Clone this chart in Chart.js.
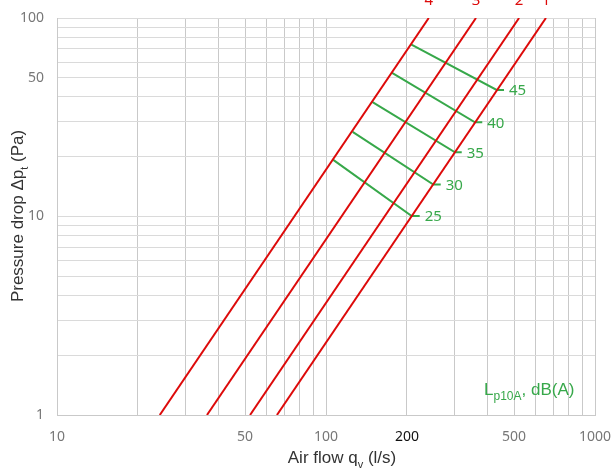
<!doctype html>
<html>
<head>
<meta charset="utf-8">
<script src="https://cdn.jsdelivr.net/npm/chart.js"></script>
<style>
    body { margin: 0; background: #fff; }
</style>
</head>
<body>
<canvas id="chart" width="612" height="471"></canvas>
<script>
    // grid + labels
    const xGrid = [10, 20, 30, 40, 50, 60, 70, 80, 90, 100, 200, 300, 400, 500, 600, 700, 800, 900, 1000];
    const xLabels = [10, 50, 100, 200, 500, 1000];
    const yGrid = [1, 2, 3, 4, 5, 6, 7, 8, 9, 10, 20, 30, 40, 50, 60, 70, 80, 90, 100];
    const yLabels = [1, 10, 50, 100];

    // red duct lines: air flow at 1 Pa and at 100 Pa
    const ductNames = ['4', '3', '2', '1'];
    const ductQLow = [24.1, 36.1, 52.2, 65.7];
    const ductQHigh = [241, 361, 522, 657];
    const pLow = 1;
    const pHigh = 100;

    // green sound level lines
    const soundLevels = ['25', '30', '35', '40', '45'];
    const soundStartQ = [106.4, 125.6, 147.9, 175.4, 207];
    const soundStartP = [19.3, 26.7, 37.9, 53.0, 73.7];
    const soundEndQ = [208.2, 250.6, 301.7, 358, 431];
    const soundEndP = [10.06, 14.5, 21.05, 29.8, 43.4];
    const soundTickQ = [223, 267, 319.6, 381, 459];

    const red = '#dd0a0a';
    const green = '#37a84a';

    const datasets = [];
    for (let i = 0; i < ductNames.length; i++) {
        datasets.push({
            label: 'duct ' + ductNames[i],
            data: [{ x: ductQLow[i], y: pLow }, { x: ductQHigh[i], y: pHigh }],
            borderColor: red, borderWidth: 2, pointRadius: 0, tension: 0
        });
    }
    for (let i = 0; i < soundLevels.length; i++) {
        datasets.push({
            label: 'Lp ' + soundLevels[i],
            data: [
                { x: soundStartQ[i], y: soundStartP[i] },
                { x: soundEndQ[i], y: soundEndP[i] },
                { x: soundTickQ[i], y: soundEndP[i] }
            ],
            borderColor: green, borderWidth: 2, pointRadius: 0, tension: 0
        });
    }

    // text with subscript parts: [[text, isSub], ...]
    function drawParts(ctx, parts, x, y, size, subSize) {
        let cx = x;
        for (const p of parts) {
            ctx.font = (p[1] ? subSize : size) + 'px "Liberation Sans", Arial, sans-serif';
            ctx.fillText(p[0], cx, p[1] ? y + size * 0.3 : y);
            cx += ctx.measureText(p[0]).width;
        }
        return cx - x;
    }
    function partsWidth(ctx, parts, size, subSize) {
        let w = 0;
        for (const p of parts) {
            ctx.font = (p[1] ? subSize : size) + 'px "Liberation Sans", Arial, sans-serif';
            w += ctx.measureText(p[0]).width;
        }
        return w;
    }

    const labelsPlugin = {
        id: 'labels',
        afterDraw(chart) {
            const ctx = chart.ctx;
            const xs = chart.scales.x, ys = chart.scales.y;
            ctx.save();
            ctx.textBaseline = 'alphabetic';
            ctx.textAlign = 'center';
            ctx.fillStyle = red;
            ctx.font = '15px "Noto Sans", sans-serif';
            for (let i = 0; i < ductNames.length; i++) {
                ctx.fillText(ductNames[i], xs.getPixelForValue(ductQHigh[i]), ys.getPixelForValue(pHigh) - 13);
            }
            ctx.textAlign = 'left';
            ctx.textBaseline = 'middle';
            ctx.fillStyle = green;
            ctx.font = '15px "Noto Sans", sans-serif';
            for (let i = 0; i < soundLevels.length; i++) {
                ctx.fillText(soundLevels[i], xs.getPixelForValue(soundTickQ[i]) + 5, ys.getPixelForValue(soundEndP[i]) + 1);
            }
            // legend note
            ctx.textAlign = 'left';
            ctx.textBaseline = 'alphabetic';
            drawParts(ctx, [['L', false], ['p10A', true], [', dB(A)', false]], 484, 395, 17, 12);

            // axis titles
            ctx.fillStyle = '#333';
            const xParts = [['Air flow q', false], ['v', true], [' (l/s)', false]];
            const xw = partsWidth(ctx, xParts, 17, 11);
            drawParts(ctx, xParts, 342 - xw / 2, 463, 17, 11);

            const yParts = [['Pressure drop \u0394p', false], ['t', true], [' (Pa)', false]];
            const yw = partsWidth(ctx, yParts, 17, 11);
            ctx.translate(23, 216);
            ctx.rotate(-Math.PI / 2);
            drawParts(ctx, yParts, -yw / 2, 0, 17, 11);
            ctx.restore();
        }
    };

    new Chart(document.getElementById('chart'), {
        type: 'line',
        data: { datasets: datasets },
        options: {
            responsive: false,
            animation: false,
            layout: { padding: { top: 18, right: 17, left: 0, bottom: 0 } },
            plugins: { legend: { display: false }, tooltip: { enabled: false } },
            scales: {
                x: {
                    type: 'logarithmic', min: 10, max: 1000,
                    afterFit: s => { s.height = 56; s.paddingLeft = 0; s.paddingRight = 0; },
                    afterBuildTicks: s => { s.ticks = xGrid.map(v => ({ value: v })); },
                    grid: { color: '#c9c9c9', drawTicks: false },
                    border: { color: '#c9c9c9' },
                    ticks: {
                        autoSkip: false, maxRotation: 0, padding: 14,
                        font: { family: '"Noto Sans", sans-serif', size: 14 },
                        color: c => c.tick && c.tick.value === 200 ? '#111' : '#777',
                        callback: v => xLabels.includes(v) ? String(v) : ''
                    }
                },
                y: {
                    type: 'logarithmic', min: 1, max: 100,
                    afterFit: s => { s.width = 57; s.paddingTop = 0; s.paddingBottom = 0; },
                    afterBuildTicks: s => { s.ticks = yGrid.map(v => ({ value: v })); },
                    grid: { color: '#dadada', drawTicks: false },
                    border: { color: '#c9c9c9' },
                    ticks: {
                        autoSkip: false, padding: 13,
                        font: { family: '"Noto Sans", sans-serif', size: 14 },
                        color: '#777',
                        callback: v => yLabels.includes(v) ? String(v) : ''
                    }
                }
            }
        },
        plugins: [labelsPlugin]
    });
</script>
</body>
</html>
